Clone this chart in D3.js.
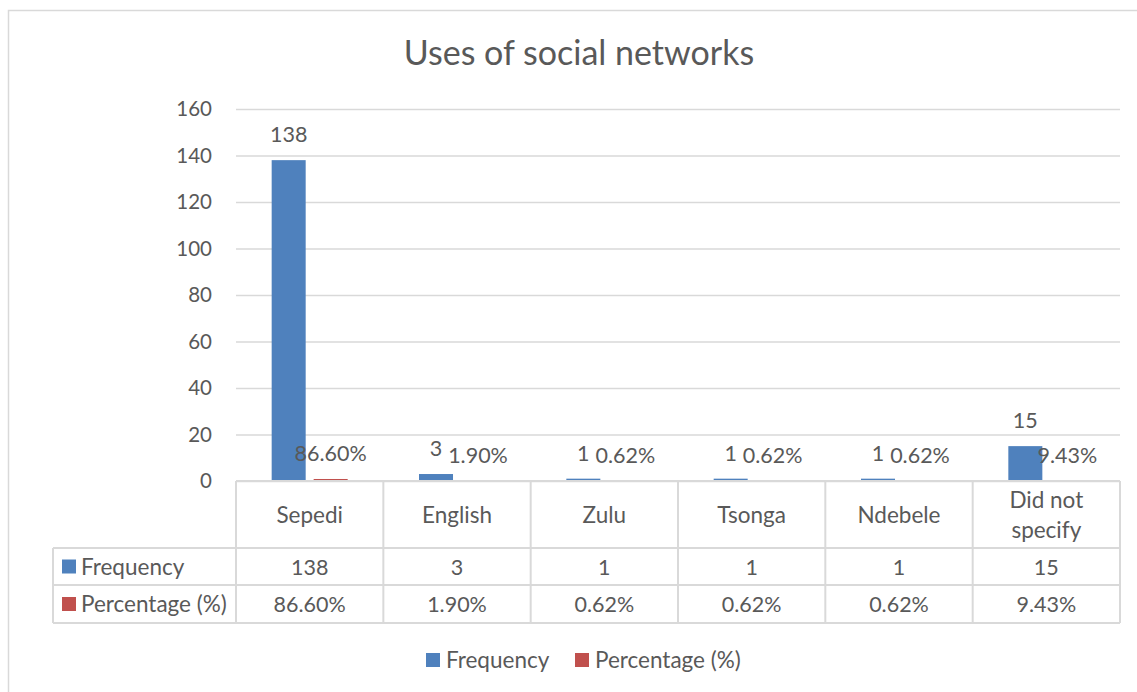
<!DOCTYPE html>
<html>
<head>
<meta charset="utf-8">
<script src="https://cdn.jsdelivr.net/npm/d3@7"></script>
<style>
  html, body { margin: 0; padding: 0; background: #fff; }
  svg { display: block; }
  text { font-family: Lato, "Open Sans", sans-serif; fill: #595959; }
</style>
</head>
<body>
<svg id="chart" width="1137" height="692"></svg>
<script>
const title = "Uses of social networks";
const categories = ["Sepedi", "English", "Zulu", "Tsonga", "Ndebele", "Did not specify"];
const categoryLines = [["Sepedi"], ["English"], ["Zulu"], ["Tsonga"], ["Ndebele"], ["Did not", "specify"]];
const seriesNames = ["Frequency", "Percentage (%)"];
const frequency = [138, 3, 1, 1, 1, 15];
const percentage = [0.866, 0.019, 0.0062, 0.0062, 0.0062, 0.0943];
const yTicks = [0, 20, 40, 60, 80, 100, 120, 140, 160];
const colors = ["#4f81bd", "#c0504d"];

const W = 1137, H = 692;
const wordSize = "22.5px", numSize = "21.5px";
const svg = d3.select("#chart");
svg.append("rect").attr("width", W).attr("height", H).attr("fill", "#fff");
// outer chart border (extends off right/bottom)
svg.append("rect").attr("x", 8.5).attr("y", 10.5).attr("width", 1140).attr("height", 700)
  .attr("fill", "none").attr("stroke", "#d9d9d9").attr("stroke-width", 1.5);

const plot = { left: 236, right: 1120, top: 109, bottom: 481 };
const tableLeft = 53;
const rowH = [67, 37, 38];

const x = d3.scaleBand().domain(categories).range([plot.left, plot.right]).padding(0);
const xs = d3.scaleBand().domain(seriesNames).range([-38, 38]).paddingInner(0.19).paddingOuter(0);
const y = d3.scaleLinear().domain([0, 160]).range([plot.bottom, plot.top]);

// title
svg.append("text").attr("x", 579).attr("y", 65).attr("text-anchor", "middle")
  .style("font-size", "34px").text(title);

// y axis gridlines + labels
const yAxis = d3.axisLeft(y).tickValues(yTicks).tickSizeInner(-(plot.right - plot.left)).tickSizeOuter(0).tickPadding(24);
const gy = svg.append("g").attr("transform", `translate(${plot.left},0)`).call(yAxis);
gy.select(".domain").remove();
gy.selectAll(".tick line").attr("stroke", "#d9d9d9").attr("stroke-width", 1.5);
gy.selectAll(".tick text").style("font-size", "20.5px").attr("fill", "#595959")
  .style("font-family", "Lato, 'Open Sans', sans-serif");

// bars
const seriesVals = [frequency, percentage];
const fmt = [d3.format("d"), d3.format(".2%")];
seriesVals.forEach((vals, si) => {
  const g = svg.append("g");
  g.selectAll("rect").data(vals).join("rect")
    .attr("x", (d, i) => x(categories[i]) + x.bandwidth() / 2 + xs(seriesNames[si]))
    .attr("width", xs.bandwidth())
    .attr("y", d => y(d))
    .attr("height", d => y(0) - y(d))
    .attr("fill", colors[si]);
  g.selectAll("text").data(vals).join("text")
    .attr("x", (d, i) => x(categories[i]) + x.bandwidth() / 2 + xs(seriesNames[si]) + xs.bandwidth() / 2)
    .attr("y", d => y(d) - 18)
    .attr("text-anchor", "middle")
    .style("font-size", numSize)
    .text(d => fmt[si](d));
});

// data table
const tg = svg.append("g");
const stroke = "#d9d9d9";
const y0 = plot.bottom, y1 = y0 + rowH[0], y2 = y1 + rowH[1], y3 = y2 + rowH[2];
const line = (xa, ya, xb, yb) => tg.append("line").attr("x1", xa).attr("y1", ya).attr("x2", xb).attr("y2", yb)
  .attr("stroke", stroke).attr("stroke-width", 2);
line(plot.left, y0, plot.right, y0);
line(tableLeft, y1, plot.right, y1);
line(tableLeft, y2, plot.right, y2);
line(tableLeft, y3, plot.right, y3);
line(tableLeft, y1, tableLeft, y3);
categories.forEach((c, i) => line(x(c), y0, x(c), y3));
line(plot.right, y0, plot.right, y3);

// header cells
categories.forEach((c, i) => {
  const lines = categoryLines[i];
  const cx = x(c) + x.bandwidth() / 2;
  const mid = (y0 + y1) / 2;
  lines.forEach((t, j) => {
    tg.append("text").attr("x", cx).attr("y", mid + (j - (lines.length - 1) / 2) * 30 + 8)
      .attr("text-anchor", "middle").style("font-size", wordSize).text(t);
  });
});
// value rows
[[y1, y2], [y2, y3]].forEach(([ya, yb], si) => {
  const mid = (ya + yb) / 2;
  tg.append("rect").attr("x", 62).attr("y", mid - 7).attr("width", 14).attr("height", 14).attr("fill", colors[si]);
  tg.append("text").attr("x", 81).attr("y", mid + 8).style("font-size", wordSize).text(seriesNames[si]);
  seriesVals[si].forEach((v, i) => {
    tg.append("text").attr("x", x(categories[i]) + x.bandwidth() / 2).attr("y", mid + 8)
      .attr("text-anchor", "middle").style("font-size", numSize).text(fmt[si](v));
  });
});

// legend
const lg = svg.append("g");
const legendX = [426, 575];
seriesNames.forEach((s, i) => {
  lg.append("rect").attr("x", legendX[i]).attr("y", 653).attr("width", 14).attr("height", 14).attr("fill", colors[i]);
  lg.append("text").attr("x", legendX[i] + 20).attr("y", 668).style("font-size", wordSize).text(s);
});
</script>
</body>
</html>
